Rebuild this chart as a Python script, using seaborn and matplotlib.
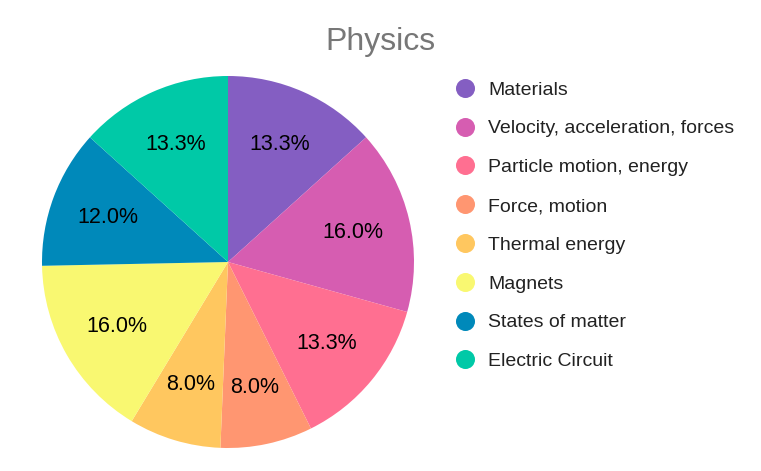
import matplotlib
matplotlib.use("Agg")
import matplotlib.pyplot as plt
from matplotlib.lines import Line2D
import seaborn as sns

categories = ["Materials", "Velocity, acceleration, forces", "Particle motion, energy",
              "Force, motion", "Thermal energy", "Magnets", "States of matter", "Electric Circuit"]
shares = [13.3, 16.0, 13.3, 8.0, 8.0, 16.0, 12.0, 13.3]
colors_hex = ["#845EC2", "#D65DB1", "#FF6F91", "#FF9671", "#FFC75F", "#F9F871", "#0089BA", "#00C9A7"]
title = "Physics"

sns.set_theme(style="white")
plt.rcParams["font.family"] = ["Liberation Sans", "DejaVu Sans"]
palette = sns.color_palette(colors_hex)

W, H = 761, 471
fig = plt.figure(figsize=(W / 100, H / 100), dpi=100)
cx, cy, r = 228, 262, 186
ax = fig.add_axes([(cx - r) / W, (H - cy - r) / H, 2 * r / W, 2 * r / H])
wedges, texts, autotexts = ax.pie(
    shares, colors=palette, startangle=90, counterclock=False,
    autopct="%.1f%%", pctdistance=0.69,
    wedgeprops=dict(linewidth=0),
    textprops=dict(fontsize=15.5, color="black"),
)
ax.set_xlim(-1, 1)
ax.set_ylim(-1, 1)
ax.set_aspect("equal")
ax.axis("off")

fig.suptitle(title, x=0.5, y=1 - 42 / H, va="center", fontsize=23, color="#777777")

handles = [Line2D([0], [0], marker="o", linestyle="none", markersize=13.7,
                  markerfacecolor=c, markeredgewidth=0) for c in palette]
leg = fig.legend(handles, categories, loc="upper left",
                 bbox_to_anchor=(455 / W, 1 - 81 / H), frameon=False,
                 fontsize=14, handlelength=1.0, handletextpad=0.7,
                 labelspacing=1.09, borderpad=0, borderaxespad=0)
for t in leg.get_texts():
    t.set_color("#222222")

fig.savefig("out.png", dpi=100, facecolor="white")
